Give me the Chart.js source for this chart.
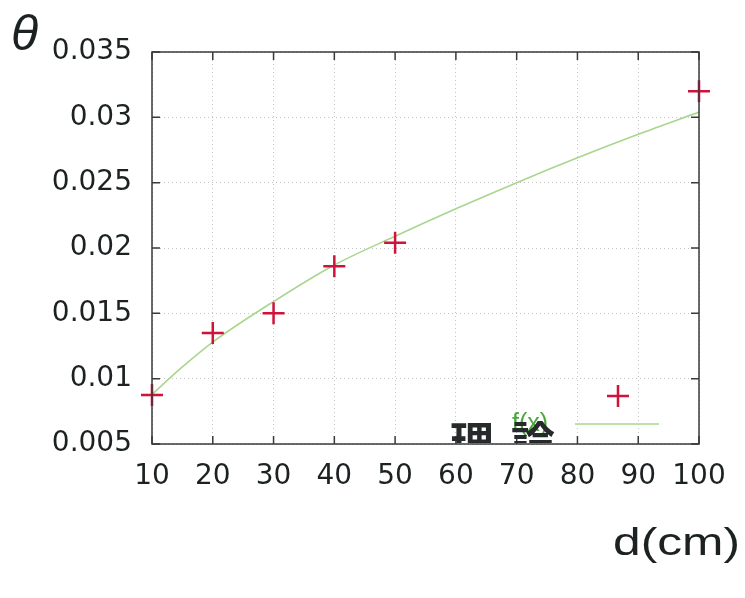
<!DOCTYPE html>
<html>
<head>
<meta charset="utf-8">
<script src="https://cdn.jsdelivr.net/npm/chart.js@4.4.1/dist/chart.umd.min.js"></script>
<style>
  html, body { margin: 0; padding: 0; background: #fff; }
  #chart { display: block; }
</style>
</head>
<body>
<canvas id="chart" width="745" height="598"></canvas>
<script>
// measured deflection angle vs. distance
const distances = [10, 20, 30, 40, 50, 100];
const angles = [0.00875, 0.0135, 0.0150, 0.0186, 0.0204, 0.0320];

// theoretical curve f(x)
const fitX = [10, 15, 20, 30, 40, 50, 60, 70, 80, 90, 100];
const fitTheta = [0.0088, 0.0109, 0.0128, 0.0159, 0.0187, 0.0209, 0.0230, 0.0250, 0.0269, 0.0287, 0.0304];

const xTicks = [10, 20, 30, 40, 50, 60, 70, 80, 90, 100];
const yTicks = [0.005, 0.01, 0.015, 0.02, 0.025, 0.03, 0.035];

const RED = '#d0133b';
const FIT = '#a9d68e';
const INK = '#1c2222';
const tickFont = { family: '"DejaVu Sans"', size: 28 };

const frame = {
  id: 'frame',
  afterDatasetsDraw(chart) {
    const { ctx, chartArea: a, scales: { x, y } } = chart;
    ctx.save();
    ctx.strokeStyle = '#3a3a3a';
    ctx.lineWidth = 1.5;
    ctx.strokeRect(a.left, a.top, a.right - a.left, a.bottom - a.top);
    // inward ticks on all four sides
    ctx.beginPath();
    xTicks.forEach(v => {
      const px = x.getPixelForValue(v);
      ctx.moveTo(px, a.bottom); ctx.lineTo(px, a.bottom - 8);
      ctx.moveTo(px, a.top); ctx.lineTo(px, a.top + 8);
    });
    yTicks.forEach(v => {
      const py = y.getPixelForValue(v);
      ctx.moveTo(a.left, py); ctx.lineTo(a.left + 8, py);
      ctx.moveTo(a.right, py); ctx.lineTo(a.right - 8, py);
    });
    ctx.stroke();
    ctx.restore();
  },
  afterDraw(chart) {
    const { ctx, chartArea: a } = chart;
    ctx.save();

    // key: data marker
    ctx.strokeStyle = RED;
    ctx.lineWidth = 2.5;
    ctx.beginPath();
    ctx.moveTo(607, 396); ctx.lineTo(629, 396);
    ctx.moveTo(618, 385); ctx.lineTo(618, 407);
    ctx.stroke();

    // key: curve sample
    ctx.strokeStyle = FIT;
    ctx.lineWidth = 1.5;
    ctx.beginPath();
    ctx.moveTo(575, 424); ctx.lineTo(659, 424);
    ctx.stroke();

    ctx.fillStyle = '#4aa83c';
    ctx.font = '25px "Liberation Sans"';
    ctx.textBaseline = 'alphabetic';
    ctx.fillText('f(x)', 512, 431);

    // handwritten caption, cut off at the frame
    ctx.save();
    ctx.beginPath();
    ctx.rect(a.left, a.top, a.right - a.left, a.bottom - a.top - 1);
    ctx.clip();
    ctx.fillStyle = '#262a2a';
    ctx.font = 'bold 44px "Noto Sans CJK JP"';
    ctx.fillText('理', 450, 459);
    ctx.fillText('論', 511, 459);
    ctx.restore();

    // axis titles
    ctx.fillStyle = INK;
    ctx.font = 'italic 50px "Liberation Sans"';
    ctx.fillText('θ', 11, 50);

    ctx.font = '38px "Liberation Sans"';
    const w = ctx.measureText('d(cm)').width;
    ctx.translate(613, 555);
    ctx.scale(127 / w, 1);
    ctx.fillText('d(cm)', 0, 0);
    ctx.restore();
  }
};

new Chart(document.getElementById('chart'), {
  type: 'scatter',
  data: {
    datasets: [
      {
        label: 'f(x)',
        data: fitX.map((v, i) => ({ x: v, y: fitTheta[i] })),
        showLine: true,
        borderColor: FIT,
        borderWidth: 1.6,
        pointRadius: 0,
        cubicInterpolationMode: 'monotone',
        order: 2
      },
      {
        label: '測定',
        data: distances.map((v, i) => ({ x: v, y: angles[i] })),
        pointStyle: 'cross',
        pointRadius: 11,
        pointBorderWidth: 2.5,
        borderColor: RED,
        backgroundColor: RED,
        clip: false,
        order: 1
      }
    ]
  },
  options: {
    responsive: false,
    animation: false,
    layout: { padding: { top: 52, right: 46, left: 0, bottom: 0 } },
    plugins: { legend: { display: false }, tooltip: { enabled: false } },
    scales: {
      x: {
        type: 'linear',
        min: 10, max: 100,
        afterBuildTicks: s => { s.ticks = xTicks.map(v => ({ value: v })); },
        afterFit: s => { s.height = 154; },
        grid: { color: '#c4c4c4', lineWidth: 1, drawTicks: false },
        border: { display: false, dash: [1, 3] },
        ticks: { color: INK, font: tickFont, padding: 16, maxRotation: 0 }
      },
      y: {
        type: 'linear',
        min: 0.005, max: 0.035,
        afterBuildTicks: s => { s.ticks = yTicks.map(v => ({ value: v })); },
        afterFit: s => { s.width = 152; },
        grid: { color: '#c4c4c4', lineWidth: 1, drawTicks: false },
        border: { display: false, dash: [1, 3] },
        ticks: {
          color: INK, font: tickFont, padding: 20,
          callback: v => String(Number(v.toFixed(3)))
        }
      }
    }
  },
  plugins: [frame]
});
</script>
</body>
</html>
